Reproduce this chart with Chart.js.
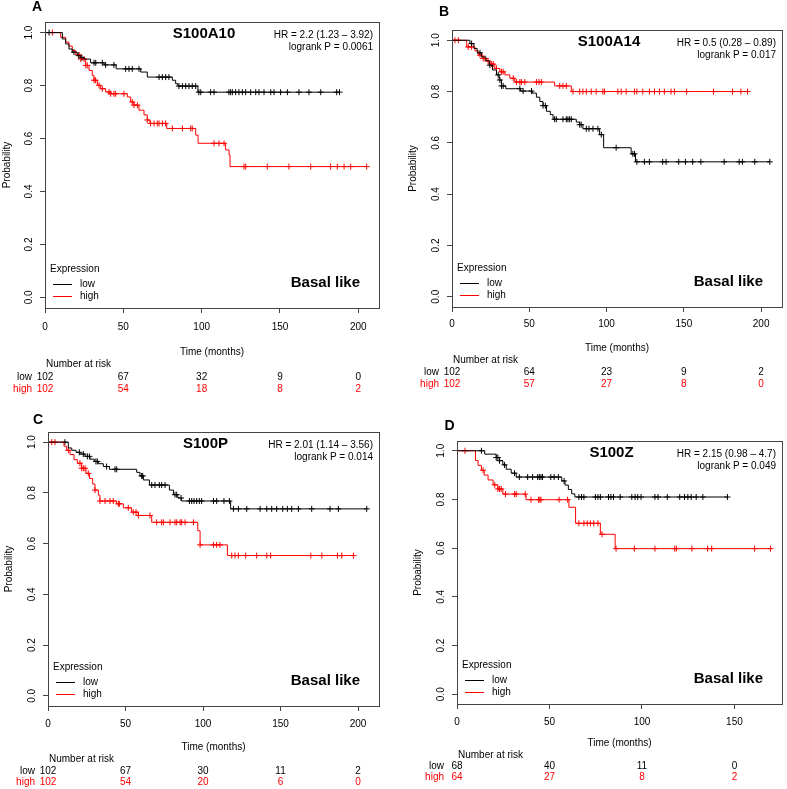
<!DOCTYPE html>
<html><head><meta charset="utf-8">
<script src="https://cdn.jsdelivr.net/npm/chart.js@4.4.1/dist/chart.umd.min.js"></script>
<style>
html,body{margin:0;padding:0;background:#fff;width:787px;height:789px;overflow:hidden}
canvas{position:absolute;left:0;top:0}
</style></head><body>
<canvas id="cA" width="787" height="789"></canvas>
<canvas id="cB" width="787" height="789"></canvas>
<canvas id="cC" width="787" height="789"></canvas>
<canvas id="cD" width="787" height="789"></canvas>
<script>
// ---------------- DATA ----------------
const genes = ['S100A10', 'S100A14', 'S100P', 'S100Z'];
const panelLetters = ['A', 'B', 'C', 'D'];
const hrTexts = ['HR = 2.2 (1.23 \u2013 3.92)', 'HR = 0.5 (0.28 \u2013 0.89)', 'HR = 2.01 (1.14 \u2013 3.56)', 'HR = 2.15 (0.98 \u2013 4.7)'];
const logrankTexts = ['logrank P = 0.0061', 'logrank P = 0.017', 'logrank P = 0.014', 'logrank P = 0.049'];
const groupNames = ['low', 'high'];
const subtypeName = 'Basal like';
const legendTitle = 'Expression';
const xTicks200 = [0, 50, 100, 150, 200];
const xTicks150 = [0, 50, 100, 150];
const yTicks = [0, 0.2, 0.4, 0.6, 0.8, 1.0];

// Panel A: S100A10
const timeLowA = [0, 11.1, 13.2, 15.3, 17.4, 20.6, 22.8, 24.9, 29.1, 37.7, 45.4, 61.1, 65.3, 81.3, 83.4, 84.8, 97.6, 188];
const survLowA = [1, 0.976, 0.957, 0.938, 0.926, 0.913, 0.905, 0.90, 0.886, 0.878, 0.863, 0.851, 0.832, 0.820, 0.807, 0.798, 0.775, 0.775];
const censLowA = [2.6, 18.5, 21.5, 23.5, 31.3, 32.4, 36.6, 38.7, 44.0, 51.5, 53.6, 55.7, 60.0, 72.8, 74.9, 77.0, 79.1, 85.5, 87.7, 89.8, 91.9, 94.0, 96.2, 98.2, 99.4, 105.7, 107.9, 117.4, 118.5, 119.6, 121.7, 123.8, 126.0, 128.1, 131.3, 134.5, 136.6, 139.8, 144.1, 146.2, 150.4, 154.7, 162.1, 168.5, 176.0, 186.2, 188.0];
const timeHighA = [0, 10.0, 13.2, 15.3, 17.4, 19.6, 22.8, 26.0, 28.1, 30.2, 31.3, 33.4, 35.5, 38.7, 41.9, 52.6, 54.7, 56.8, 60.0, 63.2, 65.3, 67.0, 77.7, 96.2, 97.7, 115.3, 117.5, 118.1, 205.7];
const survHighA = [1, 0.982, 0.964, 0.949, 0.932, 0.916, 0.90, 0.876, 0.857, 0.838, 0.820, 0.801, 0.788, 0.776, 0.769, 0.757, 0.738, 0.726, 0.707, 0.689, 0.670, 0.657, 0.638, 0.613, 0.582, 0.557, 0.538, 0.494, 0.494];
const censHighA = [4.7, 21.7, 22.8, 24.9, 26.0, 27.0, 31.3, 32.3, 34.5, 36.6, 40.9, 41.9, 44.0, 45.1, 50.4, 55.7, 56.8, 59.0, 65.3, 67.4, 69.6, 71.7, 72.8, 74.9, 77.0, 81.3, 87.7, 93.0, 94.0, 107.9, 111.1, 114.3, 127.0, 128.1, 141.9, 155.7, 169.6, 182.3, 186.6, 190.9, 195.1, 205.3];
const riskLowA = [102, 67, 32, 9, 0];
const riskHighA = [102, 54, 18, 8, 2];

// Panel B: S100A14
const timeLowB = [0, 11.6, 14.2, 16.3, 19.1, 21.9, 24.1, 26.2, 28.8, 30.5, 32.0, 34.8, 44.3, 52.0, 54.6, 56.8, 58.9, 61.1, 63.6, 65.4, 80.4, 82.6, 84.7, 95.5, 98.1, 115.9, 118.7, 205.6];
const survLowB = [1, 0.987, 0.968, 0.951, 0.935, 0.92, 0.903, 0.884, 0.865, 0.845, 0.822, 0.811, 0.802, 0.794, 0.778, 0.761, 0.745, 0.723, 0.71, 0.692, 0.681, 0.671, 0.655, 0.632, 0.581, 0.557, 0.526, 0.526];
const censLowB = [12.7, 18.1, 24.5, 29.9, 31.0, 32.0, 33.1, 43.9, 46.0, 51.4, 58.9, 60.4, 66.4, 67.5, 71.8, 74.0, 75.0, 76.1, 77.2, 82.6, 83.6, 86.9, 88.6, 91.2, 94.4, 96.6, 106.2, 117.0, 118.1, 119.6, 124.5, 127.7, 136.3, 138.5, 146.7, 151.0, 155.7, 161.0, 176.1, 185.8, 187.9, 195.9, 205.6];
const timeHighB = [0, 9.5, 14.8, 17.0, 19.8, 22.4, 24.5, 27.7, 31.0, 34.2, 37.4, 40.6, 66.4, 77.2, 191.2];
const survHighB = [1, 0.974, 0.959, 0.942, 0.929, 0.919, 0.907, 0.89, 0.877, 0.865, 0.852, 0.837, 0.822, 0.80, 0.80];
const censHighB = [1.9, 4.1, 10.5, 12.7, 18.1, 20.2, 21.3, 23.4, 25.6, 26.7, 28.8, 32.0, 33.1, 39.6, 41.7, 43.9, 44.9, 47.1, 54.6, 56.3, 57.8, 69.7, 71.8, 74.0, 78.3, 82.6, 84.7, 86.9, 90.1, 93.3, 97.6, 98.7, 107.3, 109.5, 112.7, 118.1, 119.6, 123.4, 127.7, 131.0, 134.2, 137.4, 141.7, 143.9, 151.8, 169.2, 181.5, 186.9, 191.2];
const riskLowB = [102, 64, 23, 9, 2];
const riskHighB = [102, 57, 27, 8, 0];

// Panel C: S100P
const timeLowC = [0, 13.1, 15.3, 18.1, 20.6, 23.9, 27.1, 29.9, 32.5, 35.7, 39.6, 57.2, 59.3, 61.5, 65.4, 78.3, 80.9, 83.7, 86.2, 117.8, 205.6];
const survLowC = [1, 0.977, 0.968, 0.96, 0.953, 0.944, 0.933, 0.924, 0.915, 0.904, 0.893, 0.881, 0.867, 0.851, 0.831, 0.811, 0.793, 0.78, 0.768, 0.737, 0.737];
const censLowC = [10.9, 20.2, 22.8, 25.4, 26.7, 30.9, 31.8, 37.8, 43.2, 44.3, 60.4, 61.1, 66.9, 69.0, 71.8, 73.3, 75.5, 81.9, 83.0, 85.8, 91.2, 92.7, 94.2, 95.9, 97.6, 99.1, 106.7, 108.8, 113.5, 117.0, 119.6, 122.8, 128.2, 136.8, 141.1, 144.3, 147.5, 151.4, 154.4, 157.2, 161.5, 170.1, 181.9, 187.3, 205.6];
const timeHighC = [0, 10.3, 12.0, 14.2, 16.8, 18.9, 21.7, 24.5, 26.7, 28.8, 30.3, 32.5, 33.5, 44.3, 48.6, 53.9, 58.3, 66.9, 96.6, 98.1, 115.7, 197.0];
const survHighC = [1, 0.984, 0.968, 0.951, 0.931, 0.917, 0.897, 0.877, 0.857, 0.835, 0.811, 0.791, 0.768, 0.757, 0.741, 0.724, 0.711, 0.684, 0.651, 0.595, 0.553, 0.553];
const censHighC = [2.4, 4.5, 13.1, 20.6, 21.7, 22.8, 23.9, 26.0, 30.3, 33.5, 36.8, 40.0, 42.1, 45.4, 46.0, 51.8, 55.0, 56.8, 58.3, 65.8, 70.1, 73.3, 74.4, 78.7, 81.9, 83.0, 85.2, 86.2, 88.4, 93.8, 98.1, 106.7, 108.8, 110.9, 118.5, 120.6, 122.8, 127.5, 134.6, 141.1, 143.6, 169.5, 176.6, 186.7, 189.5, 197.0];
const riskLowC = [102, 67, 30, 11, 2];
const riskHighC = [102, 54, 20, 6, 0];

// Panel D: S100Z
const timeLowD = [0, 15.0, 21.2, 23.0, 24.8, 26.6, 29.3, 32.0, 56.6, 58.4, 60.2, 62.0, 63.7, 146.2];
const survLowD = [1, 0.986, 0.972, 0.959, 0.942, 0.924, 0.908, 0.892, 0.876, 0.859, 0.841, 0.823, 0.81, 0.81];
const censLowD = [13.2, 21.2, 22.1, 23.0, 25.7, 31.1, 33.7, 38.2, 40.9, 43.6, 44.5, 45.4, 46.2, 50.7, 52.5, 54.8, 57.9, 65.9, 67.3, 68.6, 74.8, 76.2, 77.5, 81.9, 83.2, 84.6, 88.2, 94.5, 96.3, 97.7, 99.5, 107.0, 108.7, 113.7, 120.4, 123.0, 124.8, 126.6, 129.3, 132.9, 146.2];
const timeHighD = [0, 10.0, 11.4, 13.2, 14.7, 16.8, 19.5, 22.1, 24.8, 37.3, 60.5, 64.1, 77.5, 85.5, 169.5];
const survHighD = [1, 0.96, 0.94, 0.92, 0.90, 0.88, 0.86, 0.843, 0.822, 0.799, 0.768, 0.702, 0.657, 0.598, 0.598];
const censHighD = [4.3, 14.1, 20.4, 22.1, 23.0, 23.9, 26.2, 31.1, 32.0, 36.9, 40.0, 44.1, 44.8, 45.4, 55.2, 59.8, 65.9, 68.6, 70.4, 72.1, 73.9, 76.2, 78.4, 86.0, 95.9, 107.0, 117.7, 118.6, 127.0, 135.5, 137.7, 160.9, 169.5];
const riskLowD = [68, 40, 11, 0];
const riskHighD = [64, 27, 8, 2];

// ---------------- LAYOUT (positions only) ----------------
const FONT = '"Liberation Sans", Arial, Helvetica, sans-serif';
const layouts = [
  {canvas:'cA', box:{l:45,t:22,r:379,b:308}, xMax:213.2, padLeft:1.5, xPad:8, xH:50, letter:[37,7], riskY:[364,377,389]},
  {canvas:'cB', box:{l:452,t:30,r:783,b:307}, xMax:213.5, padLeft:407, xPad:6, xH:47, letter:[444,12], riskY:[360,372,384]},
  {canvas:'cC', box:{l:48,t:432,r:379,b:706}, xMax:213.5, padLeft:3, xPad:7, xH:47, letter:[38,420], riskY:[759,771,782]},
  {canvas:'cD', box:{l:457,t:441,r:785,b:704}, xMax:175.7, padLeft:412, xPad:7, xH:45, letter:[449.5,426.5], riskY:[755,766,777]}
];

const series = [
  {tl:timeLowA, sl:survLowA, cl:censLowA, th:timeHighA, sh:survHighA, ch:censHighA, rl:riskLowA, rh:riskHighA, ticks:xTicks200},
  {tl:timeLowB, sl:survLowB, cl:censLowB, th:timeHighB, sh:survHighB, ch:censHighB, rl:riskLowB, rh:riskHighB, ticks:xTicks200},
  {tl:timeLowC, sl:survLowC, cl:censLowC, th:timeHighC, sh:survHighC, ch:censHighC, rl:riskLowC, rh:riskHighC, ticks:xTicks200},
  {tl:timeLowD, sl:survLowD, cl:censLowD, th:timeHighD, sh:survHighD, ch:censHighD, rl:riskLowD, rh:riskHighD, ticks:xTicks150}
];

const colLow = '#000000', colHigh = '#ff0000';

function survAt(times, surv, t) {
  let s = surv[0];
  for (let i = 0; i < times.length; i++) { if (times[i] <= t) s = surv[i]; else break; }
  return s;
}

const kmDecor = {
  id: 'kmDecor',
  afterDraw(chart, args, o) {
    const ctx = chart.ctx, a = chart.chartArea, xs = chart.scales.x;
    const ds = chart.data.datasets;
    ctx.save();
    ctx.strokeStyle = '#444'; ctx.lineWidth = 1;
    ctx.strokeRect(Math.round(a.left) + 0.5, Math.round(a.top) + 0.5, Math.round(a.right - a.left), Math.round(a.bottom - a.top));
    ctx.textBaseline = 'middle';
    ctx.fillStyle = '#000';
    ctx.textAlign = 'center';
    ctx.font = 'bold 14px ' + FONT;
    ctx.fillText(o.letter, o.letterPos[0], o.letterPos[1]);
    ctx.font = 'bold 15px ' + FONT;
    ctx.fillText(o.gene, (a.left + a.right) / 2 - 8, a.top + 12);
    ctx.font = '10px ' + FONT;
    ctx.textAlign = 'right';
    ctx.fillText(o.hr, a.right - 6, a.top + 13);
    ctx.fillText(o.lr, a.right - 6, a.top + 25.5);
    ctx.font = 'bold 15px ' + FONT;
    ctx.fillText(o.subtype, a.right - 19, a.bottom - 25);
    // legend
    ctx.font = '10px ' + FONT;
    ctx.textAlign = 'left';
    ctx.fillText(o.legendTitle, a.left + 5, a.bottom - 39);
    o.groups.forEach((g, i) => {
      const y = Math.round(a.bottom - 24 + 12 * i);
      ctx.strokeStyle = ds[i].borderColor; ctx.lineWidth = 1;
      ctx.beginPath(); ctx.moveTo(a.left + 8, y + 0.5); ctx.lineTo(a.left + 27, y + 0.5); ctx.stroke();
      ctx.fillStyle = '#000';
      ctx.fillText(g, a.left + 35, y);
    });
    // number at risk table
    ctx.fillStyle = '#000'; ctx.textAlign = 'left';
    ctx.fillText('Number at risk', a.left + 1, o.riskY[0]);
    o.riskRows.forEach((row, i) => {
      ctx.fillStyle = ds[i].borderColor;
      ctx.textAlign = 'right';
      ctx.fillText(o.groups[i], a.left - 13, o.riskY[i + 1]);
      ctx.textAlign = 'center';
      row.forEach((n, j) => ctx.fillText(String(n), xs.getPixelForValue(o.ticks[j]), o.riskY[i + 1]));
    });
    ctx.restore();
  }
};

layouts.forEach((L, k) => {
  const S = series[k];
  const lineLow = S.tl.map((t, i) => ({x: t, y: S.sl[i]}));
  const lineHigh = S.th.map((t, i) => ({x: t, y: S.sh[i]}));
  const markLow = S.cl.map(t => ({x: t, y: survAt(S.tl, S.sl, t)}));
  const markHigh = S.ch.map(t => ({x: t, y: survAt(S.th, S.sh, t)}));
  const gridOpts = {display: true, drawOnChartArea: false, drawTicks: true, tickLength: 5, color: '#444', lineWidth: 1};
  new Chart(document.getElementById(L.canvas), {
    type: 'scatter',
    data: {
      datasets: [
        {label: groupNames[0], data: lineLow, showLine: true, stepped: 'before', borderColor: colLow, backgroundColor: colLow, borderWidth: 1, pointRadius: 0},
        {label: groupNames[1], data: lineHigh, showLine: true, stepped: 'before', borderColor: colHigh, backgroundColor: colHigh, borderWidth: 1, pointRadius: 0},
        {label: groupNames[0] + ' censored', data: markLow, showLine: false, pointStyle: 'cross', pointRadius: 3, pointBorderWidth: 1, borderColor: colLow, pointBorderColor: colLow},
        {label: groupNames[1] + ' censored', data: markHigh, showLine: false, pointStyle: 'cross', pointRadius: 3, pointBorderWidth: 1, borderColor: colHigh, pointBorderColor: colHigh}
      ]
    },
    options: {
      responsive: false, animation: false, devicePixelRatio: 1, events: [],
      layout: {padding: {left: L.padLeft, top: L.box.t, right: 787 - L.box.r, bottom: 789 - L.box.b - L.xH}},
      plugins: {
        legend: {display: false}, tooltip: {enabled: false},
        kmDecor: {letter: panelLetters[k], letterPos: L.letter, gene: genes[k], hr: hrTexts[k], lr: logrankTexts[k],
                  subtype: subtypeName, legendTitle: legendTitle, groups: groupNames, riskRows: [S.rl, S.rh], ticks: S.ticks, riskY: L.riskY}
      },
      scales: {
        x: {type: 'linear', min: 0, max: L.xMax,
            afterBuildTicks: s => { s.ticks = S.ticks.map(v => ({value: v})); },
            afterFit: s => { s.height = L.xH; },
            grid: gridOpts, border: {display: false},
            ticks: {padding: L.xPad, color: '#000', font: {size: 10, family: FONT}, maxRotation: 0, autoSkip: false, callback: v => String(v)},
            title: {display: true, text: 'Time (months)', color: '#000', font: {size: 10, family: FONT}, padding: 0}},
        y: {type: 'linear', min: -0.04, max: 1.04,
            afterBuildTicks: s => { s.ticks = yTicks.map(v => ({value: v})); },
            afterFit: s => { s.width = L.box.l - L.padLeft; },
            grid: gridOpts, border: {display: false},
            ticks: {padding: 4, color: '#000', font: {size: 10, family: FONT}, minRotation: 90, maxRotation: 90, crossAlign: 'center', autoSkip: false, callback: v => Number(v).toFixed(1)},
            title: {display: true, text: 'Probability', color: '#000', font: {size: 10, family: FONT}, padding: 0}}
      }
    },
    plugins: [kmDecor]
  });
});
</script>
</body></html>
